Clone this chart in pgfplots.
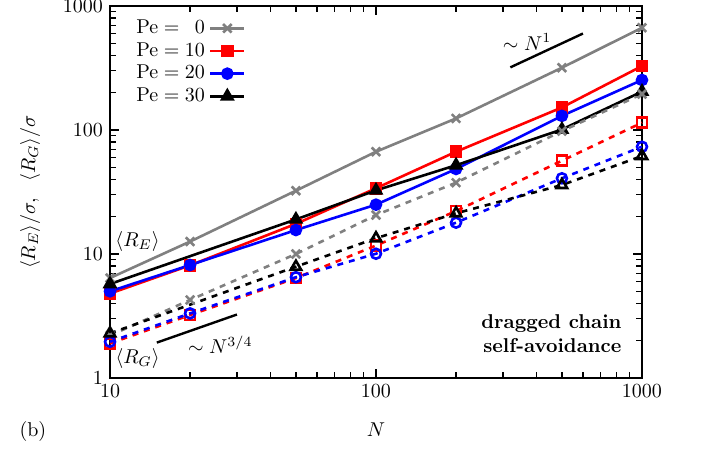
\documentclass[border=0pt]{standalone}
\usepackage{pgfplots}
\pgfplotsset{compat=1.18}
\definecolor{pegray}{gray}{0.5}
\begin{document}
\begin{tikzpicture}
\useasboundingbox (-55pt,-36.5pt) rectangle (299.5pt,189pt);
\begin{axis}[
    scale only axis,
    width=266pt, height=186pt,
    xmode=log, ymode=log,
    xmin=10, xmax=1000, ymin=1, ymax=1000,
    log ticks with fixed point,
    /pgf/number format/1000 sep={},
    xtick={10,100,1000}, ytick={1,10,100,1000},
    axis line style={line width=0.8pt},
    every tick/.style={black, line width=0.6pt},
    xlabel={$N$},
    ylabel={$\langle R_E\rangle/\sigma,\ \ \langle R_G\rangle/\sigma$},
    xlabel style={at={(axis description cs:0.5,-0.14)}, anchor=center},
    ylabel style={at={(axis description cs:-0.150,0.5)}, anchor=center},
    clip=false,
    legend plot pos=right,
    legend style={at={(axis description cs:0.03,0.985)}, anchor=north west,
        draw=none, fill=none, row sep=-1pt, font=\normalsize},
    legend cell align=left,
    every axis plot/.append style={line width=1.3pt},
    legend image post style={mark options={solid}},
]
% <R_E>
\addplot[pegray, mark=x, mark size=3pt] coordinates {
    (10,6.4) (20,12.6) (50,32.4) (100,66.8) (200,124) (500,318) (1000,668)};
\addlegendentry{$\mathrm{Pe}=\phantom{1}0$}
\addplot[red, mark=square*, mark size=2.5pt] coordinates {
    (10,4.8) (20,8.1) (50,17.5) (100,33.9) (200,66.8) (500,152) (1000,328)};
\addlegendentry{$\mathrm{Pe}=10$}
\addplot[blue, mark=*, mark size=2.5pt] coordinates {
    (10,5.0) (20,8.15) (50,15.6) (100,25) (200,48.5) (500,130) (1000,253)};
\addlegendentry{$\mathrm{Pe}=20$}
\addplot[black, mark=triangle*, mark size=3pt] coordinates {
    (10,5.73) (50,19) (100,32.6) (200,52) (500,101) (1000,204)};
\addlegendentry{$\mathrm{Pe}=30$}
% <R_G>
\addplot[pegray, dash pattern=on 3pt off 3pt, mark=x, mark size=3pt, mark options={solid}, forget plot] coordinates {
    (10,2.2) (20,4.26) (50,10) (100,20.6) (200,37.6) (500,98) (1000,195)};
\addplot[red, dash pattern=on 3pt off 3pt, mark=square, mark size=2.5pt, mark options={solid}, forget plot] coordinates {
    (10,1.9) (20,3.22) (50,6.4) (100,11.7) (200,22.2) (500,56.5) (1000,114.6)};
\addplot[blue, dash pattern=on 3pt off 3pt, mark=o, mark size=2.5pt, mark options={solid}, forget plot] coordinates {
    (10,1.96) (20,3.32) (50,6.5) (100,10.05) (200,17.9) (500,40.8) (1000,73.3)};
\addplot[black, dash pattern=on 3pt off 3pt, mark=triangle, mark size=3pt, mark options={solid}, forget plot] coordinates {
    (10,2.29) (50,7.9) (100,13.4) (200,21.3) (500,36) (1000,61.7)};
% slope guides
\draw[line width=1.2pt] (axis cs:320,320) -- (axis cs:600,600);
\node at (axis cs:370,512) {$\sim N^{1}$};
\draw[line width=1.2pt] (axis cs:15,1.93) -- (axis cs:30,3.25);
\node at (axis cs:26,1.85) {$\sim N^{3/4}$};
\node at (axis cs:12.7,12.6) {$\langle R_E\rangle$};
\node at (axis cs:12.7,1.44) {$\langle R_G\rangle$};
\node[anchor=east, align=right, font=\bfseries] at (axis cs:890,2.27) {dragged chain\\self-avoidance};
\node at (axis description cs:-0.145,-0.145) {(b)};
\end{axis}
\end{tikzpicture}
\end{document}
